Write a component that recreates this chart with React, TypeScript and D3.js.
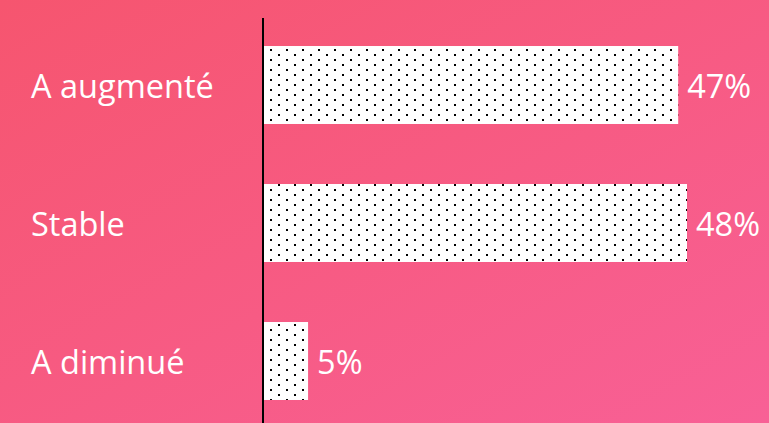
import React from "react";
import * as d3 from "d3";

const categories = ["A augmenté", "Stable", "A diminué"];
const values = [47, 48, 5];
const valueLabels = ["47%", "48%", "5%"];

const W = 769;
const H = 423;

export default function App() {
  const y = d3.scaleBand<string>().domain(categories).range([16, 430]).paddingInner(0.435).paddingOuter(0.2175);
  const x = d3.scaleLinear().domain([0, 48]).range([264, 687]);
  const font = "'Open Sans', sans-serif";
  return (
    <svg width={W} height={H} style={{ position: "fixed", left: 0, top: 0 }}>
      <defs>
        <linearGradient id="bg" x1="0" y1="0" x2="1" y2="1">
          <stop offset="0" stopColor="#F6556F" />
          <stop offset="1" stopColor="#F86096" />
        </linearGradient>
        <pattern id="dots" patternUnits="userSpaceOnUse" width={16} height={10} x={264} y={46}>
          <rect width={16} height={10} fill="#ffffff" />
          <rect x={6} y={3} width={2} height={2} fill="#000" />
          <rect x={14} y={8} width={2} height={2} fill="#000" />
        </pattern>
      </defs>
      <rect width={W} height={H} fill="url(#bg)" />
      {categories.map((c, i) => (
        <g key={c}>
          <rect x={x(0)} y={y(c)!} width={x(values[i]) - x(0)} height={y.bandwidth()} fill="url(#dots)" />
          <text x={31} y={y(c)! + y.bandwidth() / 2} dy="0.41em" fill="#fff" fontFamily={font} fontSize={32.5}>{c}</text>
          <text x={x(values[i]) + 9} y={y(c)! + y.bandwidth() / 2} dy="0.41em" fill="#fff" fontFamily={font} fontSize={32.5}>{valueLabels[i]}</text>
        </g>
      ))}
      <line x1={263} x2={263} y1={18} y2={H} stroke="#000" strokeWidth={2} />
    </svg>
  );
}
